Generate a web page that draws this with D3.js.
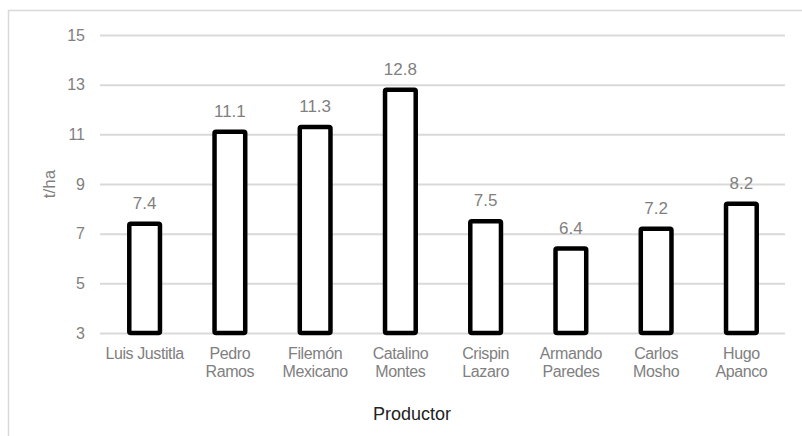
<!DOCTYPE html>
<html>
<head>
<meta charset="utf-8">
<script src="https://cdn.jsdelivr.net/npm/d3@7"></script>
<style>
body { margin: 0; background: #fff; }
text { font-family: "Liberation Sans", Arial, sans-serif; }
</style>
</head>
<body>
<script>
// productores y rendimiento (t/ha)
var productores = [["Luis Justitla"], ["Pedro", "Ramos"], ["Filemón", "Mexicano"], ["Catalino", "Montes"],
                   ["Crispin", "Lazaro"], ["Armando", "Paredes"], ["Carlos", "Mosho"], ["Hugo", "Apanco"]];
var rendimiento = [7.4, 11.1, 11.3, 12.8, 7.5, 6.4, 7.2, 8.2];
var yTicks = [3, 5, 7, 9, 11, 13, 15];

var width = 802, height = 436;
var margin = {left: 100, right: 17, top: 35, bottom: 103};

var svg = d3.select("body").append("svg")
    .attr("width", width)
    .attr("height", height);

// marco exterior
svg.append("path")
    .attr("d", "M8.5," + height + "V10.5H" + width)
    .attr("fill", "none")
    .attr("stroke", "#d9d9d9")
    .attr("stroke-width", 1.5);

var nombres = productores.map(function(d) { return d.join(" "); });

var x = d3.scaleBand()
    .domain(nombres)
    .range([102, 784])
    .paddingInner(0.64)
    .paddingOuter(0.32);

var y = d3.scaleLinear()
    .domain([3, 15])
    .range([height - margin.bottom, margin.top]);

// lineas de cuadricula
var yAxis = svg.append("g")
    .attr("transform", "translate(" + margin.left + ",0)")
    .call(d3.axisLeft(y).tickValues(yTicks).tickSize(-(width - margin.right - margin.left)).tickPadding(15));
yAxis.select(".domain").remove();
yAxis.selectAll(".tick line").attr("stroke", "#d9d9d9").attr("stroke-width", 2);
yAxis.selectAll(".tick text")
    .attr("fill", "#808080")
    .attr("font-size", "16px")
    .attr("font-family", "Liberation Sans, Arial, sans-serif");

// barras
svg.selectAll("rect.bar")
    .data(rendimiento)
    .enter().append("rect")
    .attr("class", "bar")
    .attr("x", function(d, i) { return x(nombres[i]); })
    .attr("y", function(d) { return y(d); })
    .attr("width", x.bandwidth())
    .attr("height", function(d) { return y(3) - y(d); })
    .attr("rx", 1.5)
    .attr("fill", "#fff")
    .attr("stroke", "#000")
    .attr("stroke-width", 4.5);

// etiquetas de valor
svg.selectAll("text.valor")
    .data(rendimiento)
    .enter().append("text")
    .attr("class", "valor")
    .attr("x", function(d, i) { return x(nombres[i]) + x.bandwidth() / 2; })
    .attr("y", function(d) { return y(d) - 15; })
    .attr("text-anchor", "middle")
    .attr("font-size", "17px")
    .attr("fill", "#7f7f7f")
    .text(function(d) { return d.toFixed(1); });

// etiquetas de categoria
var cat = svg.selectAll("text.cat")
    .data(productores)
    .enter().append("text")
    .attr("class", "cat")
    .attr("text-anchor", "middle")
    .attr("font-size", "16px")
    .attr("fill", "#808080")
    .attr("transform", function(d, i) {
        return "translate(" + (x(nombres[i]) + x.bandwidth() / 2) + "," + (y(3) + 26) + ")";
    });
cat.selectAll("tspan")
    .data(function(d) { return d; })
    .enter().append("tspan")
    .attr("x", 0)
    .attr("y", function(d, i) { return i * 18; })
    .attr("letter-spacing", "-0.4")
    .text(function(d) { return d; });

// titulos de ejes
svg.append("text")
    .attr("transform", "translate(55," + y(9) + ") rotate(-90)")
    .attr("text-anchor", "middle")
    .attr("font-size", "17px")
    .attr("fill", "#808080")
    .text("t/ha");

svg.append("text")
    .attr("x", 412)
    .attr("y", 420)
    .attr("text-anchor", "middle")
    .attr("font-size", "18px")
    .attr("fill", "#222")
    .text("Productor");
</script>
</body>
</html>
